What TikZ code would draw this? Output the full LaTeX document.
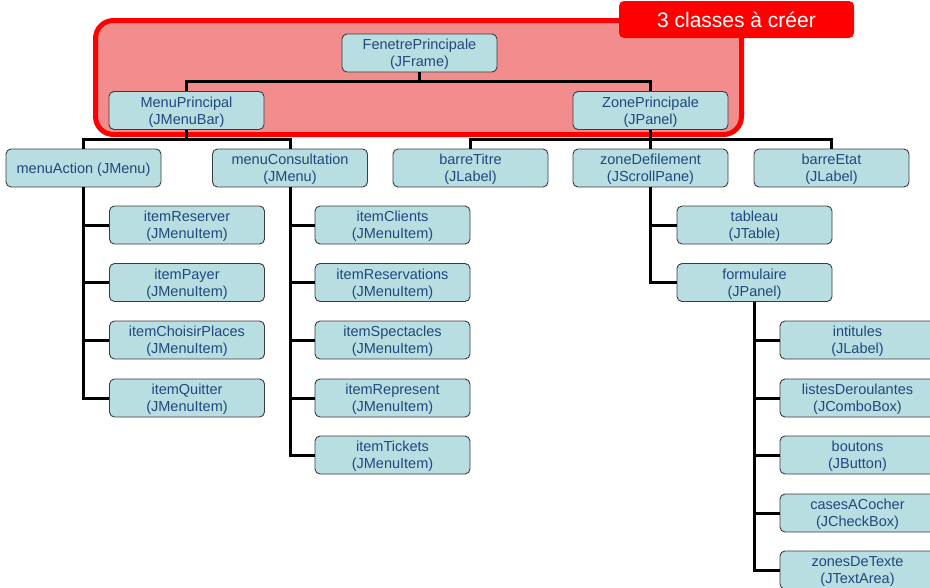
\documentclass[tikz,border=0pt]{standalone}
\usepackage{fontspec}
\setmainfont{Liberation Sans}
\definecolor{boxfill}{RGB}{184,222,226}
\definecolor{boxtext}{RGB}{31,73,125}
\definecolor{boxline}{RGB}{60,60,60}
\definecolor{zonefill}{RGB}{243,140,140}
\begin{document}
\begin{tikzpicture}[x=1pt,y=-1pt,
  cls/.style={draw=boxline, line width=0.9pt, fill=boxfill, rounded corners=5pt,
    minimum width=155pt, minimum height=38pt, inner sep=1pt, align=center,
    text=boxtext, font=\fontsize{14.5}{17}\selectfont, text depth=0pt},
  link/.style={line width=3pt, black},
  tag/.style={fill=red, rounded corners=5pt, minimum width=235pt, minimum height=37pt,
    text=white, font=\fontsize{21}{25}\selectfont, inner sep=0pt}]
\useasboundingbox (0,0) rectangle (930,587);

% red zone
\draw[red, line width=5pt, fill=zonefill, rounded corners=18pt] (95.5,20.5) rectangle (741.5,134.5);

% connector bends
\coordinate (b1) at (419.5,81);
\coordinate (b2) at (186.5,139);
\coordinate (b3) at (650.5,139);

% nodes
\node[cls] (fen) at (419.5,53) {FenetrePrincipale\\(JFrame)};
\node[cls] (mp) at (186.5,110.5) {MenuPrincipal\\(JMenuBar)};
\node[cls] (zp) at (650.5,110.5) {ZonePrincipale\\(JPanel)};

\node[cls] (ma) at (83.5,168) {menuAction (JMenu)};
\node[cls] (mc) at (290,168) {menuConsultation\\(JMenu)};
\node[cls] (bt) at (470.5,168) {barreTitre\\(JLabel)};
\node[cls] (zd) at (650.5,168) {zoneDefilement\\(JScrollPane)};
\node[cls] (be) at (831.5,168) {barreEtat\\(JLabel)};

\node[cls] (a1) at (187,225) {itemReserver\\(JMenuItem)};
\node[cls] (a2) at (187,282.5) {itemPayer\\(JMenuItem)};
\node[cls] (a3) at (187,340) {itemChoisirPlaces\\(JMenuItem)};
\node[cls] (a4) at (187,398) {itemQuitter\\(JMenuItem)};

\node[cls] (c1) at (392.5,225) {itemClients\\(JMenuItem)};
\node[cls] (c2) at (392.5,282.5) {itemReservations\\(JMenuItem)};
\node[cls] (c3) at (392.5,340) {itemSpectacles\\(JMenuItem)};
\node[cls] (c4) at (392.5,398) {itemRepresent\\(JMenuItem)};
\node[cls] (c5) at (392.5,455) {itemTickets\\(JMenuItem)};

\node[cls] (z1) at (754.5,225) {tableau\\(JTable)};
\node[cls] (z2) at (754.5,282.5) {formulaire\\(JPanel)};

\node[cls] (f1) at (857.5,340) {intitules\\(JLabel)};
\node[cls] (f2) at (857.5,398) {listesDeroulantes\\(JComboBox)};
\node[cls] (f3) at (857.5,455) {boutons\\(JButton)};
\node[cls] (f4) at (857.5,513) {casesACocher\\(JCheckBox)};
\node[cls] (f5) at (857.5,570) {zonesDeTexte\\(JTextArea)};

% connectors
\draw[link] (fen.south) -- (b1) -| (mp.north);
\draw[link] (b1) -| (zp.north);
\draw[link] (mp.south) -- (b2) -| (ma.north);
\draw[link] (b2) -| (mc.north);
\draw[link] (zp.south) -- (b3) -| (bt.north);
\draw[link] (b3) -| (be.north);
\draw[link] (b3) -- (zd.north);
\foreach \n in {a1,a2,a3,a4} \draw[link] (ma.south) |- (\n.west);
\foreach \n in {c1,c2,c3,c4,c5} \draw[link] (mc.south) |- (\n.west);
\foreach \n in {z1,z2} \draw[link] (zd.south) |- (\n.west);
\foreach \n in {f1,f2,f3,f4,f5} \draw[link] (z2.south) |- (\n.west);

\node[tag] (lbl) at (736.5,19.5) {3 classes à créer};
\end{tikzpicture}
\end{document}
